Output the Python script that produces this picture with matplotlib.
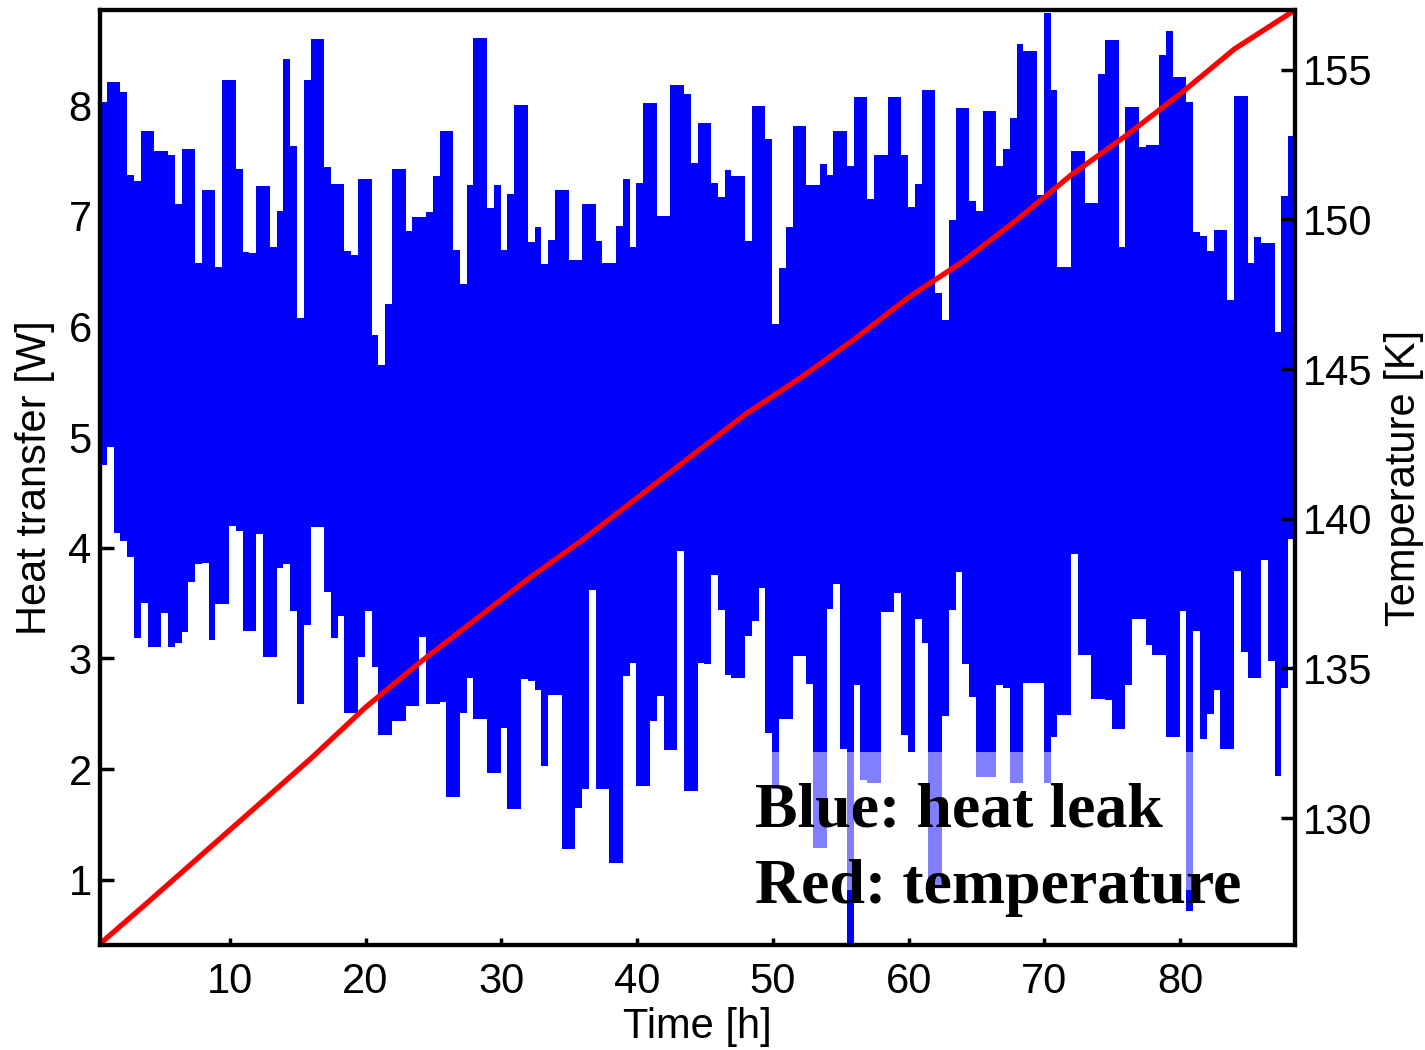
import numpy as np
import matplotlib
matplotlib.use('Agg')
import matplotlib.pyplot as plt
from matplotlib.patches import Rectangle

# Heat leak: upper / lower envelope of the trace per 0.5 h bin [W]
T0_H = 0.45
BIN_H = 0.5
HEAT_HI = [
    8.03, 8.21, 8.21, 8.12, 7.37, 7.31, 7.77, 7.77, 7.59, 7.59,
    7.55, 7.11, 7.60, 7.60, 6.57, 7.23, 7.23, 6.54, 8.23, 8.23,
    7.42, 6.67, 6.66, 7.27, 7.27, 6.72, 7.04, 8.42, 7.63, 6.08,
    8.23, 8.60, 8.60, 7.44, 7.29, 7.29, 6.68, 6.65, 7.33, 7.33,
    5.92, 5.65, 6.20, 7.42, 7.42, 6.86, 6.99, 6.99, 7.03, 7.36,
    7.77, 7.77, 6.69, 6.38, 7.28, 8.61, 8.61, 7.07, 7.28, 6.69,
    7.20, 8.00, 8.00, 6.76, 6.90, 6.56, 6.78, 7.23, 7.23, 6.60,
    6.60, 7.11, 7.11, 6.77, 6.57, 6.57, 6.91, 7.33, 6.72, 7.30,
    8.02, 8.02, 7.00, 7.00, 8.18, 8.18, 8.10, 7.48, 7.84, 7.84,
    7.30, 7.17, 7.41, 7.36, 7.36, 6.77, 7.99, 7.99, 7.69, 6.02,
    6.53, 6.90, 7.81, 7.81, 7.28, 7.28, 7.47, 7.37, 7.77, 7.77,
    7.45, 8.07, 8.07, 7.15, 7.55, 7.55, 8.07, 8.07, 7.55, 7.08,
    7.29, 8.14, 8.14, 6.30, 6.06, 6.96, 7.97, 7.97, 7.13, 7.04,
    7.95, 7.95, 7.45, 7.60, 7.88, 8.55, 8.49, 8.49, 7.19, 8.83,
    8.14, 6.54, 6.54, 7.59, 7.59, 7.12, 7.12, 8.28, 8.59, 8.59,
    6.72, 7.98, 7.98, 7.62, 7.64, 7.64, 8.45, 8.67, 8.25, 8.25,
    8.03, 6.85, 6.82, 6.68, 6.87, 6.87, 6.24, 8.08, 8.08, 6.57,
    6.81, 6.75, 6.75, 5.95, 7.18, 7.72,
]
HEAT_LO = [
    4.75, 4.91, 4.13, 4.06, 3.92, 3.18, 3.50, 3.10, 3.10, 3.41,
    3.10, 3.14, 3.24, 3.69, 3.85, 3.86, 3.17, 3.49, 3.49, 4.20,
    4.15, 3.25, 3.25, 4.12, 3.01, 3.01, 3.82, 3.85, 3.43, 2.59,
    3.30, 4.19, 4.19, 3.60, 3.18, 3.38, 2.51, 2.51, 3.01, 3.43,
    2.92, 2.31, 2.31, 2.43, 2.43, 2.57, 2.57, 3.19, 2.59, 2.59,
    2.61, 1.75, 1.75, 2.51, 2.82, 2.45, 2.45, 1.96, 1.96, 2.37,
    1.64, 1.64, 2.81, 2.80, 2.71, 2.03, 2.67, 2.67, 1.28, 1.28,
    1.65, 1.82, 3.62, 1.82, 1.82, 1.15, 1.15, 2.84, 2.96, 1.85,
    1.85, 2.43, 2.66, 2.17, 2.17, 3.97, 1.80, 1.80, 2.96, 2.95,
    3.75, 3.44, 2.85, 2.82, 2.82, 3.20, 3.34, 3.64, 2.33, 1.82,
    2.45, 2.45, 3.02, 3.02, 2.77, 1.29, 1.29, 3.45, 3.67, 2.18,
    0.41, 2.76, 1.90, 1.87, 1.87, 3.42, 3.42, 3.59, 2.31, 2.15,
    3.36, 3.14, 0.93, 0.93, 2.48, 3.44, 3.78, 2.95, 2.65, 1.93,
    1.93, 1.93, 2.76, 2.73, 1.87, 1.87, 2.78, 2.78, 2.78, 1.87,
    2.29, 2.49, 2.49, 3.94, 3.03, 3.03, 2.63, 2.63, 2.62, 2.36,
    2.36, 2.76, 3.36, 3.36, 3.12, 3.03, 3.03, 2.29, 2.29, 3.43,
    0.72, 3.25, 2.27, 2.50, 2.71, 2.18, 2.18, 3.79, 3.06, 2.82,
    2.82, 3.89, 2.98, 1.94, 2.73, 4.08,
]

# Temperature readings
TEMP_H = [0.45, 4, 8, 12, 16, 20, 24, 28, 32, 36, 40, 44,
          48, 52, 56, 60, 64, 68, 72, 76, 80, 84, 88.45]
TEMP_K = [125.8, 127.2, 128.8, 130.4, 132.0, 133.7, 135.2, 136.6, 138.0, 139.3, 140.7, 142.1,
          143.5, 144.7, 146.0, 147.4, 148.6, 150.0, 151.5, 152.8, 154.2, 155.7, 157.0]

X_TICKS = [10, 20, 30, 40, 50, 60, 70, 80]
W_TICKS = [1, 2, 3, 4, 5, 6, 7, 8]
K_TICKS = [130, 135, 140, 145, 150, 155]

plt.rcParams.update({
    'font.family': 'Liberation Sans',
    'font.size': 30,
})

fig = plt.figure(figsize=(14.25, 10.5), dpi=100)
ax = fig.add_axes([0.0702, 0.1, 0.8386, 0.8905])

edges = T0_H + BIN_H * np.arange(len(HEAT_HI) + 1)
hi = np.append(HEAT_HI, HEAT_HI[-1])
lo = np.append(HEAT_LO, HEAT_LO[-1])
ax.fill_between(edges, lo, hi, step='post', color='#0000ff', lw=0, zorder=2)

ax.set_xlim(0.45, 88.45)
ax.set_ylim(0.41, 8.86)
ax.set_xticks(X_TICKS)
ax.set_yticks(W_TICKS)
ax.set_xlabel('Time [h]', labelpad=4)
ax.set_ylabel('Heat transfer [W]', labelpad=10)
ax.tick_params(axis='y', direction='in', length=10, width=2.5, pad=6)
ax.tick_params(axis='x', direction='in', length=5, width=2.5, pad=12)
for s in ax.spines.values():
    s.set_linewidth(3)

# semi-transparent label box, as in the original
ax.add_patch(Rectangle((0.544, 0.059), 0.418, 0.147, transform=ax.transAxes,
                       facecolor='white', edgecolor='none', alpha=0.5, zorder=3))
ax.text(0.548, 0.127, 'Blue: heat leak', transform=ax.transAxes,
        family='Liberation Serif', fontweight='bold', fontsize=46,
        va='baseline', ha='left', zorder=4)
ax.text(0.548, 0.045, 'Red: temperature', transform=ax.transAxes,
        family='Liberation Serif', fontweight='bold', fontsize=46,
        va='baseline', ha='left', zorder=4)

ax2 = ax.twinx()
ax2.plot(TEMP_H, TEMP_K, color='#ff0000', lw=3.8)
ax2.set_ylim(125.76, 157.0)
ax2.set_yticks(K_TICKS)
ax2.set_ylabel('Temperature [K]', labelpad=8)
ax2.tick_params(axis='y', direction='in', length=10, width=2.5, pad=6)
for s in ax2.spines.values():
    s.set_linewidth(3)

fig.savefig('out.png', dpi=100)
